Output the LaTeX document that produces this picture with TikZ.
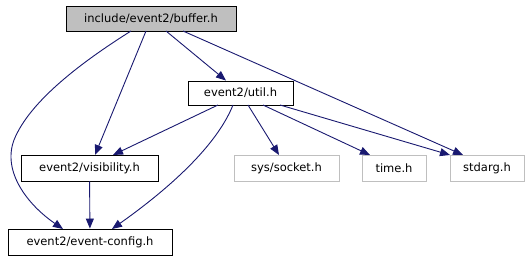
\documentclass[tikz,border=0pt]{standalone}
\usepackage{fontspec}
\setmainfont{DejaVu Sans}
\usetikzlibrary{arrows.meta}
\definecolor{edgeblue}{HTML}{191970}
\definecolor{greyb}{HTML}{BFBFBF}
\begin{document}
\begin{tikzpicture}[x=1pt,y=-1pt,
  box/.style={draw=black,line width=0.9pt,inner sep=0pt,anchor=center,font=\fontsize{11.5}{13}\selectfont},
  extbox/.style={box,draw=greyb},
  dep/.style={edgeblue,line width=0.9pt,-{Triangle[length=10pt,width=8pt]}}]
\useasboundingbox (0,0) rectangle (530,261);
\node[box,fill=greyb,minimum width=170pt,minimum height=25pt] (buffer) at (151,18.5) {include/event2/buffer.h};
\node[box,minimum width=105pt,minimum height=24pt] (util) at (240.5,93) {event2/util.h};
\node[box,minimum width=137pt,minimum height=26pt] (vis) at (89.5,168) {event2/visibility.h};
\node[box,minimum width=164pt,minimum height=26pt] (cfg) at (90,242) {event2/event-config.h};
\node[extbox,minimum width=105pt,minimum height=26pt] (sock) at (286.5,168) {sys/socket.h};
\node[extbox,minimum width=64pt,minimum height=26pt] (time) at (394,168) {time.h};
\node[extbox,minimum width=74pt,minimum height=26pt] (stdarg) at (487,168) {stdarg.h};
% end points
\coordinate (b1) at (131,31);
\coordinate (b2) at (146,31);
\coordinate (b3) at (166,31);
\coordinate (b4) at (183,31);
\coordinate (u1) at (218,105);
\coordinate (u2) at (233,105);
\coordinate (u3) at (248,105);
\coordinate (u4) at (263,105);
\coordinate (u5) at (280,105);
\coordinate (c1) at (63,229);
\coordinate (c2) at (112,229);
\coordinate (v1) at (95,155);
\coordinate (v2) at (113,155);
\coordinate (s1) at (279,155);
\coordinate (t1) at (370,155);
\coordinate (d1) at (450,155);
\coordinate (d2) at (463,155);
\draw[dep] (b1) .. controls (85,60) and (30,100) .. (14,140) .. controls (2,172) and (28,205) .. (c1);
\draw[dep] (b2) -- (v1);
\draw[dep] (b3) -- (util.north -| 226,0);
\draw[dep] (b4) -- (d2);
\draw[dep] (u1) -- (v2);
\draw[dep] (u2) .. controls (215,150) and (160,195) .. (c2);
\draw[dep] (u3) -- (s1);
\draw[dep] (u4) -- (t1);
\draw[dep] (u5) -- (d1);
\draw[dep] (vis) -- (cfg);
\end{tikzpicture}
\end{document}
